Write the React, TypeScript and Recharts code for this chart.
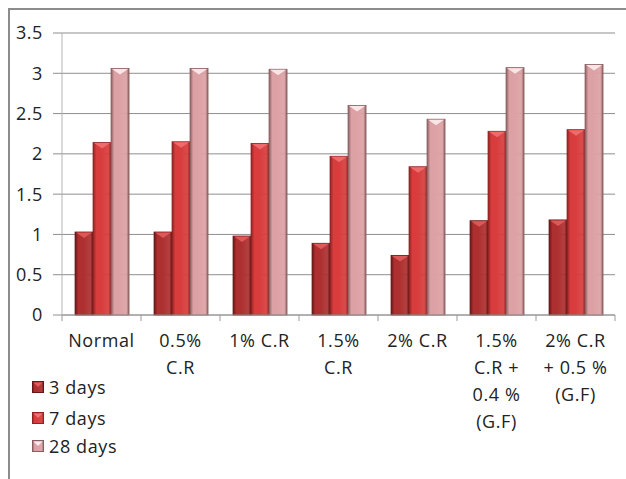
import React from "react";
import { BarChart, Bar, XAxis, YAxis, CartesianGrid, Legend } from "recharts";

const categories = [
  "Normal",
  "0.5% C.R",
  "1% C.R",
  "1.5% C.R",
  "2% C.R",
  "1.5% C.R + 0.4 % (G.F)",
  "2% C.R + 0.5 % (G.F)",
];

// how each category label wraps under the axis
const tickLines = [
  ["Normal"],
  ["0.5%", "C.R"],
  ["1% C.R"],
  ["1.5%", "C.R"],
  ["2% C.R"],
  ["1.5%", "C.R +", "0.4 %", "(G.F)"],
  ["2% C.R", "+ 0.5 %", "(G.F)"],
];

const days3 = [1.03, 1.03, 0.98, 0.89, 0.74, 1.17, 1.18];
const days7 = [2.14, 2.15, 2.13, 1.97, 1.84, 2.28, 2.3];
const days28 = [3.06, 3.06, 3.05, 2.6, 2.43, 3.07, 3.11];

const yTicks = [0, 0.5, 1, 1.5, 2, 2.5, 3, 3.5];

const series = [
  { key: "d3", name: "3 days", edge: "#661616", mid: "#ad2f2f", cap: "#e35c5c" },
  { key: "d7", name: "7 days", edge: "#8f2222", mid: "#d83c3c", cap: "#f27070" },
  { key: "d28", name: "28 days", edge: "#8a5e60", mid: "#dca1a4", cap: "#fdeced" },
];

const data = categories.map((c, i) => ({
  name: c,
  d3: days3[i],
  d7: days7[i],
  d28: days28[i],
}));

const FONT = "'Open Sans', sans-serif";

function makeShape(s: (typeof series)[number]) {
  return (props: any) => {
    const { x, y, width, height } = props;
    if (!height || height <= 0) return null;
    const capH = Math.min(6, height);
    return (
      <g>
        <rect
          x={x}
          y={y}
          width={width}
          height={height}
          fill={`url(#grad-${s.key})`}
          stroke={s.edge}
          strokeWidth={0.8}
        />
        <path
          d={`M${x + 1},${y + 0.5} L${x + width - 1},${y + 0.5} L${x + width / 2},${y + capH} Z`}
          fill={s.cap}
          opacity={0.9}
        />
      </g>
    );
  };
}

const XTick = (props: any) => {
  const { x, y, payload, index, visibleTicksCount } = props;
  const lines = tickLines[index] || [String(payload.value)];
  const off = payload.offset || 0;
  return (
    <g>
      <line x1={x - off} y1={y} x2={x - off} y2={y + 6} stroke="#9a9a9a" />
      {index === visibleTicksCount - 1 && (
        <line x1={x + off} y1={y} x2={x + off} y2={y + 6} stroke="#9a9a9a" />
      )}
      {lines.map((ln: string, i: number) => (
        <text
          key={i}
          x={x}
          y={y + 25 + i * 27}
          textAnchor="middle"
          dominantBaseline="central"
          fontFamily={FONT}
          fontSize={18}
          letterSpacing={0.6}
          fill="#222"
        >
          {ln}
        </text>
      ))}
    </g>
  );
};

const LegendContent = () => (
  <div style={{ fontFamily: FONT, fontSize: 18, color: "#222", letterSpacing: 0.6 }}>
    {series.map((s, i) => (
      <div
        key={s.key}
        style={{ display: "flex", alignItems: "center", height: 31, marginTop: i === 2 ? -3 : 0 }}
      >
        <svg width={12} height={12} style={{ marginRight: 5 }}>
          <rect x={0.5} y={0.5} width={11} height={11} fill={`url(#grad-${s.key})`} stroke={s.edge} />
          <path d="M1.5,1.5 L10.5,1.5 L6,6 Z" fill={s.cap} />
        </svg>
        <span>{s.name}</span>
      </div>
    ))}
  </div>
);

export default function App() {
  return (
    <div
      style={{
        position: "absolute",
        left: 8,
        top: 8,
        width: 616,
        height: 469,
        borderTop: "2px solid #8c8c8c",
        borderLeft: "2px solid #8c8c8c",
        background: "#fff",
      }}
    >
      <BarChart
        width={616}
        height={469}
        data={data}
        margin={{ top: 23, right: 11, bottom: 0, left: 0 }}
        barCategoryGap="16.5%"
        barGap={0}
      >
        <defs>
          {series.map((s) => (
            <linearGradient key={s.key} id={`grad-${s.key}`} x1="0" y1="0" x2="1" y2="0">
              <stop offset="0%" stopColor={s.edge} />
              <stop offset="18%" stopColor={s.mid} />
              <stop offset="45%" stopColor={s.mid} />
              <stop offset="85%" stopColor={s.mid} stopOpacity={0.92} />
              <stop offset="100%" stopColor={s.edge} />
            </linearGradient>
          ))}
        </defs>
        <CartesianGrid vertical={false} stroke="#8e8e8e" />
        <XAxis
          dataKey="name"
          height={164}
          interval={0}
          tickLine={false}
          tickSize={0}
          tickMargin={0}
          axisLine={{ stroke: "#9a9a9a" }}
          tick={<XTick />}
        />
        <YAxis
          width={52}
          domain={[0, 3.5]}
          ticks={yTicks}
          interval={0}
          tickSize={9}
          tickMargin={10}
          axisLine={{ stroke: "#b5b5b5" }}
          tickLine={{ stroke: "#8e8e8e" }}
          tick={{ fontFamily: FONT, fontSize: 18, fill: "#222", letterSpacing: 0.6 }}
        />
        {series.map((s) => (
          <Bar
            key={s.key}
            dataKey={s.key}
            name={s.name}
            fill={s.mid}
            shape={makeShape(s)}
            isAnimationActive={false}
          />
        ))}
        <Legend
          layout="horizontal"
          verticalAlign="middle"
          align="center"
          content={<LegendContent />}
          wrapperStyle={{ left: 22, top: 361, width: 140, height: 100 }}
        />
      </BarChart>
    </div>
  );
}
